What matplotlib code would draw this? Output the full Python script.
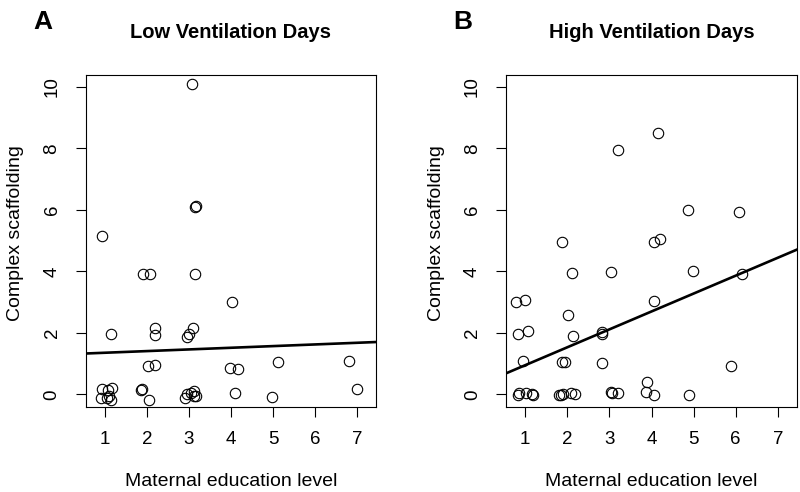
import matplotlib
matplotlib.use("Agg")
import matplotlib.pyplot as plt

plt.rcParams['font.family'] = ['Liberation Sans', 'DejaVu Sans']

# Panel A: Low ventilation days
x_low = [3.07, 3.15, 3.17, 0.94, 1.90, 2.08, 3.15, 4.02, 1.14, 2.18, 2.18, 3.09,
         3.00, 2.95, 2.03, 2.20, 3.98, 4.17, 5.12, 6.80, 7.00, 4.10, 4.98,
         0.92, 1.07, 1.17, 0.90, 1.04, 1.15, 1.10, 1.85, 1.89, 2.05,
         2.91, 2.96, 3.04, 3.13, 3.16, 3.11]
y_low = [10.08, 6.10, 6.12, 5.16, 3.92, 3.92, 3.91, 3.00, 1.97, 2.16, 1.93, 2.16,
         1.96, 1.86, 0.93, 0.94, 0.87, 0.82, 1.06, 1.09, 0.17, 0.04, -0.09,
         0.16, 0.14, 0.21, -0.11, -0.12, -0.18, -0.05, 0.14, 0.17, -0.18,
         -0.13, 0.00, 0.05, 0.11, -0.04, -0.05]
fit_low = (1.30, 0.054)  # intercept, slope

# Panel B: High ventilation days
x_high = [4.15, 3.21, 4.87, 6.08, 1.88, 4.07, 4.21, 2.10, 3.04, 4.98, 6.14,
          0.79, 0.99, 4.06, 2.02, 0.83, 1.06, 2.13, 2.83, 2.82, 0.95, 1.88,
          1.94, 2.82, 5.89, 3.89, 3.87, 4.05, 4.90,
          0.83, 0.86, 1.01, 1.15, 1.18, 1.80, 1.86, 1.90, 2.09, 2.19,
          3.03, 3.07, 3.21]
y_high = [8.50, 7.94, 6.00, 5.94, 4.97, 4.97, 5.05, 3.95, 3.97, 4.02, 3.90,
          3.02, 3.08, 3.03, 2.59, 1.95, 2.06, 1.91, 2.02, 1.95, 1.08, 1.05,
          1.05, 1.01, 0.93, 0.41, 0.07, -0.03, -0.03,
          -0.02, 0.05, 0.04, 0.00, -0.03, -0.03, -0.02, 0.00, 0.04, 0.02,
          0.07, 0.05, 0.05]
fit_high = (0.368, 0.582)

panel_letters = ['A', 'B']
titles = ['Low Ventilation Days', 'High Ventilation Days']
xlabel = 'Maternal education level'
ylabel = 'Complex scaffolding'
xticks = [1, 2, 3, 4, 5, 6, 7]
yticks = [0, 2, 4, 6, 8, 10]

W, H = 800, 492
fig = plt.figure(figsize=(W / 100, H / 100), dpi=100)

panels = [(x_low, y_low, fit_low, 86, 376), (x_high, y_high, fit_high, 506.3, 796.7)]
top_px, bot_px = 74.5, 406.7
xlim = (0.55, 7.45)
ylim = (-0.4, 10.4)

for i, (xs, ys, fit, lpx, rpx) in enumerate(panels):
    ax = fig.add_axes([lpx / W, 1 - bot_px / H, (rpx - lpx) / W, (bot_px - top_px) / H])
    ax.plot(xs, ys, linestyle='none', marker='o', markersize=7.5,
            markerfacecolor='none', markeredgecolor='black', markeredgewidth=0.8)
    a, b = fit
    ax.plot(list(xlim), [a + b * xlim[0], a + b * xlim[1]], color='black', lw=1.9)
    ax.set_xlim(*xlim)
    ax.set_ylim(*ylim)
    ax.set_xticks(xticks)
    ax.set_yticks(yticks)
    ax.set_xticklabels([str(t) for t in xticks])
    ax.set_yticklabels([str(t) for t in yticks], rotation=90, va='center')
    ax.tick_params(axis='both', length=7.3, width=0.8, labelsize=13.5, color='black')
    ax.tick_params(axis='x', pad=10)
    ax.tick_params(axis='y', pad=11)
    for s in ax.spines.values():
        s.set_linewidth(0.8)
    cx = (lpx + rpx) / 2
    fig.text(cx / W, 1 - 38 / H, titles[i], ha='center', va='baseline',
             fontsize=14.5, fontweight='bold')
    fig.text(cx / W, 1 - 486.5 / H, xlabel, ha='center', va='baseline', fontsize=14)
    fig.text((lpx - 70) / W, 1 - 233 / H, ylabel, ha='center', va='center',
             rotation=90, fontsize=14)
    fig.text((lpx - 53) / W, 1 - 29 / H, panel_letters[i], ha='left', va='baseline',
             fontsize=19, fontweight='bold')

fig.savefig('out.png', dpi=100)
